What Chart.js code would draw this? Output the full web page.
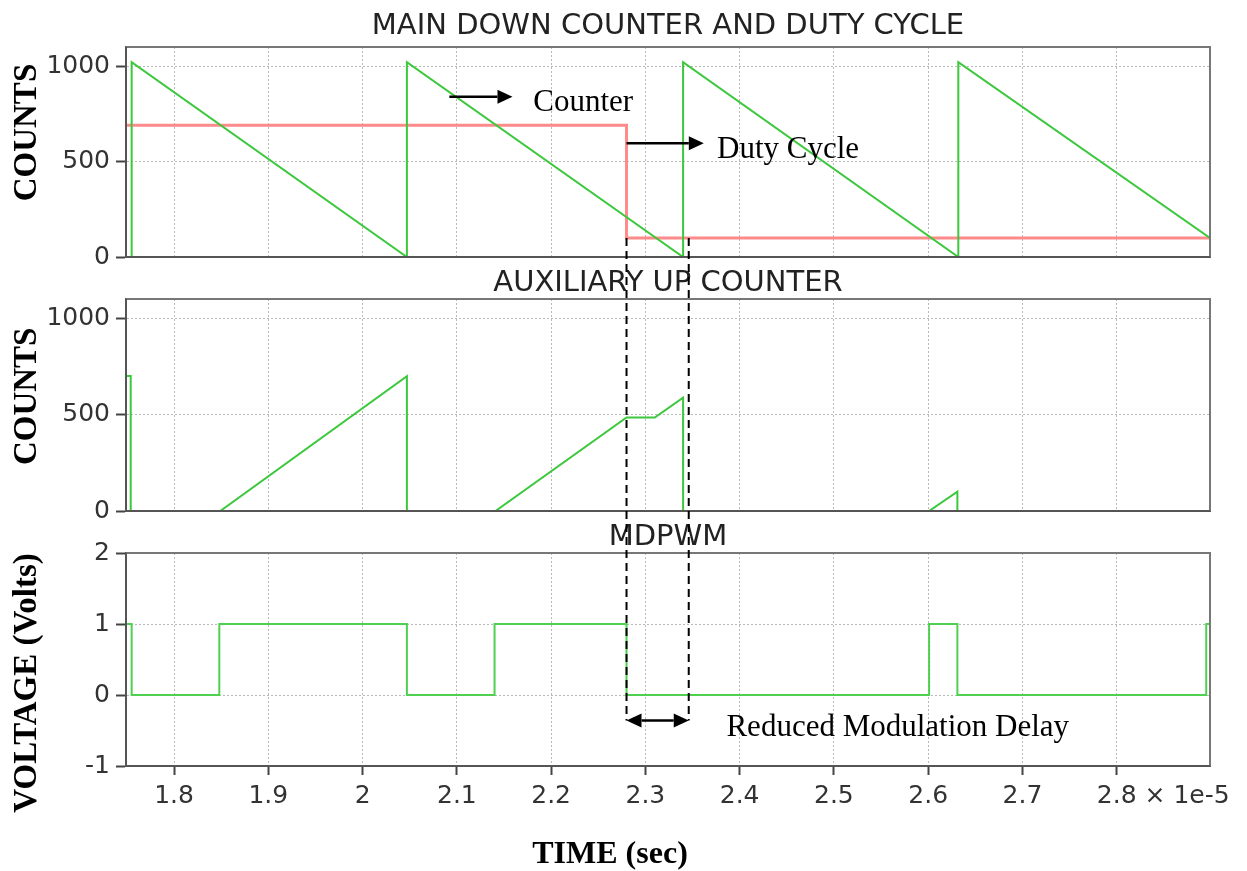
<!DOCTYPE html>
<html lang="en">
<head>
<meta charset="UTF-8">
<title>Main down counter, auxiliary up counter and MDPWM</title>
<script src="https://cdn.jsdelivr.net/npm/chart.js"></script>
<style>
  body { margin: 0; background: #fff; }
  #wrap { position: relative; width: 1247px; height: 871px; }
  #wrap canvas { position: absolute; left: 0; }
</style>
</head>
<body>
<div id="wrap">
  <canvas id="mainChart" width="1247" height="278" style="top:0px"></canvas>
  <canvas id="auxChart" width="1247" height="282" style="top:250px"></canvas>
  <canvas id="pwmChart" width="1247" height="371" style="top:500px"></canvas>
  <canvas id="notes" width="1247" height="871" style="top:0px"></canvas>
</div>
<script>
// time in units of 1e-5 s
const tMin = 1.749, tMax = 2.899;
const timeTicks = [1.8, 1.9, 2.0, 2.1, 2.2, 2.3, 2.4, 2.5, 2.6, 2.7, 2.8];
const countTicks = [0, 500, 1000];
const voltTicks = [-1, 0, 1, 2];

// main down counter (sawtooth)
const counterT = [1.749, 1.755, 1.755, 2.047, 2.047, 2.340, 2.340, 2.632, 2.632, 2.899];
const counterV = [0, 0, 1020, 0, 1020, 0, 1020, 0, 1020, 100];

// duty cycle command, each value holds from its time on
const dutyT = [1.749, 2.280, 2.899];
const dutyV = [690, 100, 100];

// auxiliary up counter
const auxT = [1.749, 1.754, 1.754, 1.849, 2.047, 2.047, 2.141, 2.280, 2.310, 2.340, 2.340, 2.601, 2.631, 2.631, 2.899];
const auxV = [700, 700, 0, 0, 700, 0, 0, 485, 485, 588, 0, 0, 100, 0, 0];

// MDPWM output, each value holds from its time on
const pwmT = [1.749, 1.755, 1.848, 2.047, 2.140, 2.280, 2.601, 2.631, 2.895, 2.899];
const pwmV = [1, 0, 1, 0, 1, 0, 1, 0, 1, 1];

// reduced modulation delay window
const delayStart = 2.280, delayEnd = 2.346;

const tickFont = { family: 'DejaVu Sans', size: 25 };
const green = '#3cc83c';

function series(t, v) {
  return t.map((x, i) => ({ x: x, y: v[i] }));
}

// plot frame drawn over the traces, like the simulator output
const boxFrame = {
  id: 'boxFrame',
  afterDraw(chart) {
    const { ctx, chartArea: a } = chart;
    ctx.save();
    ctx.lineWidth = 2;
    ctx.strokeStyle = '#777';
    ctx.beginPath();
    ctx.moveTo(a.left, a.top);
    ctx.lineTo(a.right, a.top);
    ctx.lineTo(a.right, a.bottom);
    ctx.stroke();
    ctx.strokeStyle = '#555';
    ctx.beginPath();
    ctx.moveTo(a.left, a.top);
    ctx.lineTo(a.left, a.bottom);
    ctx.lineTo(a.right, a.bottom);
    ctx.stroke();
    ctx.restore();
  }
};

function timeAxis(showLabels) {
  return {
    type: 'linear',
    min: tMin,
    max: tMax,
    afterBuildTicks: s => { s.ticks = timeTicks.map(v => ({ value: v })); },
    afterFit: s => { s.height = showLabels ? 50 : 0; },
    grid: { color: '#b8b8b8', lineWidth: 1, drawTicks: showLabels, tickLength: 9, tickColor: '#444', tickWidth: 2 },
    border: { color: '#555', width: 2, dash: [2, 2] },
    ticks: {
      display: showLabels, padding: 6, color: '#333', font: tickFont,
      maxRotation: 0, autoSkip: false,
      callback: v => String(+v.toFixed(1))
    }
  };
}

function valueAxis(min, max, ticks) {
  return {
    min: min,
    max: max,
    afterBuildTicks: s => { s.ticks = ticks.map(v => ({ value: v })); },
    afterFit: s => { s.width = 126; },
    grid: { color: '#b8b8b8', lineWidth: 1, tickLength: 10, tickColor: '#444', tickWidth: 2 },
    border: { color: '#555', width: 2, dash: [2, 2] },
    ticks: { padding: 6, color: '#333', font: tickFont, autoSkip: false, callback: v => String(v) }
  };
}

function makeChart(id, title, padTop, padBottomTitle, datasets, yAxis, showTime, padBottom) {
  return new Chart(document.getElementById(id), {
    type: 'line',
    data: { datasets: datasets },
    options: {
      responsive: false,
      animation: false,
      layout: { padding: { left: 0, right: 37, top: 0, bottom: padBottom } },
      elements: { point: { radius: 0 }, line: { tension: 0 } },
      plugins: {
        legend: { display: false },
        tooltip: { enabled: false },
        title: {
          display: true, text: title, fullSize: false, color: '#222',
          font: { family: 'DejaVu Sans', size: 29, weight: 'normal', lineHeight: 1.0 },
          padding: { top: padTop, bottom: padBottomTitle }
        }
      },
      scales: { x: timeAxis(showTime), y: yAxis }
    },
    plugins: [boxFrame]
  });
}

const mainChart = makeChart('mainChart', 'MAIN DOWN COUNTER AND DUTY CYCLE', 11.5, 6.5, [
  { label: 'Counter', data: series(counterT, counterV), borderColor: green, borderWidth: 2 },
  { label: 'Duty Cycle', data: series(dutyT, dutyV), borderColor: '#ff8a8a', borderWidth: 3, stepped: true }
], valueAxis(0, 1100, countTicks), false, 20);

const auxChart = makeChart('auxChart', 'AUXILIARY UP COUNTER', 18.5, 1.5, [
  { label: 'Auxiliary counter', data: series(auxT, auxV), borderColor: green, borderWidth: 2 }
], valueAxis(0, 1100, countTicks), false, 20);

const pwmChart = makeChart('pwmChart', 'MDPWM', 22.5, 1.5, [
  { label: 'MDPWM', data: series(pwmT, pwmV), borderColor: '#50d050', borderWidth: 2, stepped: true }
], valueAxis(-1, 2, voltTicks), true, 55);

// annotation overlay
function px(chart, axis, v) {
  return chart.scales[axis].getPixelForValue(v) + (axis === 'y' ? chart.canvas.offsetTop : 0);
}

function arrow(ctx, x1, x2, y, both) {
  const head = 15, half = 7, dir = Math.sign(x2 - x1);
  const tri = (tip, d) => {
    ctx.beginPath();
    ctx.moveTo(tip, y);
    ctx.lineTo(tip - d * head, y - half);
    ctx.lineTo(tip - d * head, y + half);
    ctx.closePath();
    ctx.fill();
  };
  ctx.beginPath();
  ctx.moveTo(both ? x1 + dir * head : x1, y);
  ctx.lineTo(x2 - dir * head, y);
  ctx.stroke();
  tri(x2, dir);
  if (both) tri(x1, -dir);
}

function drawNotes() {
  const ctx = document.getElementById('notes').getContext('2d');
  ctx.strokeStyle = '#000';
  ctx.fillStyle = '#000';

  // dashed delay window
  ctx.save();
  ctx.lineWidth = 2;
  ctx.setLineDash([8, 5]);
  const yTop = px(mainChart, 'y', dutyV[1]);
  const yBot = px(pwmChart, 'y', -0.36);
  [delayStart, delayEnd].forEach(t => {
    const x = px(pwmChart, 'x', t);
    ctx.beginPath();
    ctx.moveTo(x, yTop);
    ctx.lineTo(x, yBot);
    ctx.stroke();
  });
  ctx.restore();

  ctx.lineWidth = 2.5;
  arrow(ctx, px(mainChart, 'x', 2.092), px(mainChart, 'x', 2.159), px(mainChart, 'y', 840), false);
  arrow(ctx, px(mainChart, 'x', delayStart), px(mainChart, 'x', 2.362), px(mainChart, 'y', 596), false);
  arrow(ctx, px(pwmChart, 'x', delayStart), px(pwmChart, 'x', delayEnd), px(pwmChart, 'y', -0.36), true);

  ctx.font = '31px "Liberation Serif"';
  ctx.textAlign = 'left';
  ctx.textBaseline = 'alphabetic';
  ctx.fillText('Counter', px(mainChart, 'x', 2.181), px(mainChart, 'y', 765));
  ctx.fillText('Duty Cycle', px(mainChart, 'x', 2.376), px(mainChart, 'y', 516));
  ctx.fillText('Reduced Modulation Delay', px(pwmChart, 'x', 2.386), px(pwmChart, 'y', -0.58));

  // axis titles
  ctx.font = 'bold 33px "Liberation Serif"';
  ctx.textAlign = 'center';
  ctx.textBaseline = 'middle';
  const yTitle = (text, y) => {
    ctx.save();
    ctx.translate(27, y);
    ctx.rotate(-Math.PI / 2);
    ctx.fillText(text, 0, 0);
    ctx.restore();
  };
  yTitle('COUNTS', px(mainChart, 'y', 652));
  yTitle('COUNTS', px(auxChart, 'y', 595));
  yTitle('VOLTAGE (Volts)', px(pwmChart, 'y', 0.17));

  const xs = pwmChart.scales.x;
  ctx.font = 'bold 32px "Liberation Serif"';
  ctx.fillText('TIME (sec)', px(pwmChart, 'x', 2.2625), pwmChart.chartArea.bottom + pwmChart.canvas.offsetTop + 89);

  // exponent suffix after the last time tick
  ctx.font = tickFont.size + 'px "' + tickFont.family + '"';
  ctx.fillStyle = '#333';
  ctx.textAlign = 'left';
  const last = timeTicks[timeTicks.length - 1];
  const labelY = xs.top + pwmChart.canvas.offsetTop + 9 + 6 + tickFont.size * 0.6;
  ctx.fillText(' \u00d7 1e-5', px(pwmChart, 'x', last) + ctx.measureText(String(last)).width / 2, labelY);
}

drawNotes();
</script>
</body>
</html>
